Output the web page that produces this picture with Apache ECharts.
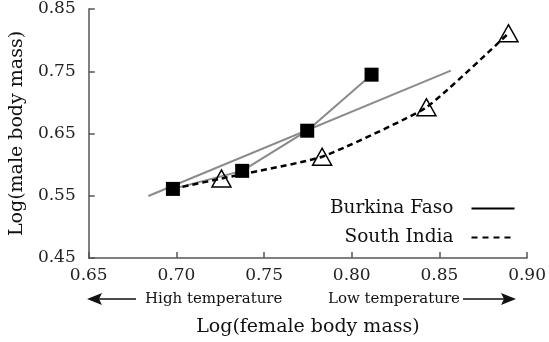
<!DOCTYPE html>
<html>
<head>
<meta charset="utf-8">
<script src="https://cdn.jsdelivr.net/npm/echarts@6/dist/echarts.min.js"></script>
<style>
  html, body { margin: 0; padding: 0; background: #fff; }
  #chart { width: 549px; height: 342px; }
</style>
</head>
<body>
<div id="chart"></div>
<script>
// Burkina Faso: observed points (female, male log body mass)
const bfFemale = [0.698, 0.7375, 0.7746, 0.8113];
const bfMale   = [0.561, 0.590, 0.6545, 0.7445];
// Burkina Faso: fitted straight line (end points)
const bfFitFemale = [0.684, 0.8565];
const bfFitMale   = [0.5496, 0.7509];
// South India: observed points
const siFemale = [0.7257, 0.7831, 0.8426, 0.8894];
const siMale   = [0.5777, 0.6127, 0.6921, 0.811];
// South India: curve path, starting from the shared low-mass point
const siCurveFemale = [0.698, 0.7257, 0.7831, 0.8426, 0.8894];
const siCurveMale   = [0.561, 0.5777, 0.6127, 0.6921, 0.811];
// Axis ticks
const xTicks = [0.65, 0.70, 0.75, 0.80, 0.85, 0.90];
const yTicks = [0.45, 0.55, 0.65, 0.75, 0.85];

const pairs = (xs, ys) => xs.map((x, i) => [x, ys[i]]);
const SERIF = '"DejaVu Serif", "Liberation Serif", serif';
const AXIS_COLOR = '#555';
const GREY = '#8a8a8a';

const chart = echarts.init(document.getElementById('chart'), null, { renderer: 'canvas' });

const axisCommon = {
  type: 'value',
  nameLocation: 'middle',
  nameTextStyle: { fontFamily: SERIF, fontSize: 19, color: '#111' },
  axisLine: { show: true, lineStyle: { color: AXIS_COLOR, width: 1.5 } },
  axisTick: { show: true, inside: true, length: 6, lineStyle: { color: AXIS_COLOR, width: 1.5 } },
  splitLine: { show: false },
  axisLabel: {
    fontFamily: SERIF, fontSize: 17, color: '#222',
    showMinLabel: true, showMaxLabel: true,
    formatter: v => v.toFixed(2)
  }
};

chart.setOption({
  animation: false,
  backgroundColor: '#fff',
  grid: { left: 86, right: 20.3, top: 9, bottom: 84 },
  xAxis: Object.assign({}, axisCommon, {
    min: xTicks[0], max: xTicks[xTicks.length - 1],
    name: 'Log(female body mass)', nameGap: 60,
    axisTick: Object.assign({}, axisCommon.axisTick, { customValues: xTicks }),
    axisLabel: Object.assign({}, axisCommon.axisLabel, { customValues: xTicks, margin: 9 })
  }),
  yAxis: Object.assign({}, axisCommon, {
    min: yTicks[0], max: yTicks[yTicks.length - 1],
    name: 'Log(male body mass)', nameGap: 58, nameRotate: 90,
    axisTick: Object.assign({}, axisCommon.axisTick, { customValues: yTicks }),
    axisLabel: Object.assign({}, axisCommon.axisLabel, { customValues: yTicks, margin: 13 })
  }),
  legend: {
    data: ['Burkina Faso', 'South India'],
    orient: 'vertical',
    right: 28.5,
    top: 194,
    align: 'right',
    itemWidth: 43,
    itemHeight: 14,
    itemGap: 10,
    selectedMode: false,
    itemStyle: { opacity: 0 },
    textStyle: { fontFamily: SERIF, fontSize: 18.5, color: '#111', padding: [0, 13, 0, 0] }
  },
  series: [
    // legend keys
    { name: 'Burkina Faso', type: 'line', data: [], symbol: 'none', showSymbol: false,
      itemStyle: { color: '#000' }, lineStyle: { color: '#000', width: 1.6 } },
    { name: 'South India', type: 'line', data: [], symbol: 'none', showSymbol: false,
      itemStyle: { color: '#000' }, lineStyle: { color: '#000', width: 1.6, type: [6, 5] } },
    // Burkina Faso fitted line
    { name: 'bf-fit', type: 'line', data: pairs(bfFitFemale, bfFitMale),
      symbol: 'none', lineStyle: { color: GREY, width: 2 }, z: 2 },
    // Burkina Faso connecting line
    { name: 'bf-path', type: 'line', data: pairs(bfFemale, bfMale),
      symbol: 'none', lineStyle: { color: GREY, width: 2 }, z: 2 },
    // South India dashed curve
    { name: 'si-curve', type: 'line', data: pairs(siCurveFemale, siCurveMale),
      symbol: 'none', smooth: 0.15,
      lineStyle: { color: '#000', width: 2.5, type: [6, 4] }, z: 3 },
    // South India points
    { name: 'si-points', type: 'scatter', data: pairs(siFemale, siMale),
      symbol: 'triangle', symbolSize: [19, 17],
      itemStyle: { color: 'rgba(255,255,255,0)', borderColor: '#000', borderWidth: 1.5, opacity: 1 }, z: 4 },
    // Burkina Faso points
    { name: 'bf-points', type: 'scatter', data: pairs(bfFemale, bfMale),
      symbol: 'rect', symbolSize: 14,
      itemStyle: { color: '#000', opacity: 1 }, z: 5 }
  ],
  graphic: [
    // left arrow + label
    { type: 'line', shape: { x1: 96, y1: 299, x2: 136, y2: 299 },
      style: { stroke: '#111', lineWidth: 1.6 } },
    { type: 'polygon', shape: { points: [[87, 299], [102, 293], [99, 299], [102, 305]] },
      style: { fill: '#111' } },
    { type: 'text', x: 145, y: 299,
      style: { text: 'High temperature', fontFamily: SERIF, fontSize: 15, fill: '#111',
               align: 'left', verticalAlign: 'middle' } },
    // right arrow + label
    { type: 'text', x: 460, y: 299,
      style: { text: 'Low temperature', fontFamily: SERIF, fontSize: 15, fill: '#111',
               align: 'right', verticalAlign: 'middle' } },
    { type: 'line', shape: { x1: 463, y1: 299, x2: 507, y2: 299 },
      style: { stroke: '#111', lineWidth: 1.6 } },
    { type: 'polygon', shape: { points: [[516, 299], [501, 293], [504, 299], [501, 305]] },
      style: { fill: '#111' } }
  ]
});
</script>
</body>
</html>
